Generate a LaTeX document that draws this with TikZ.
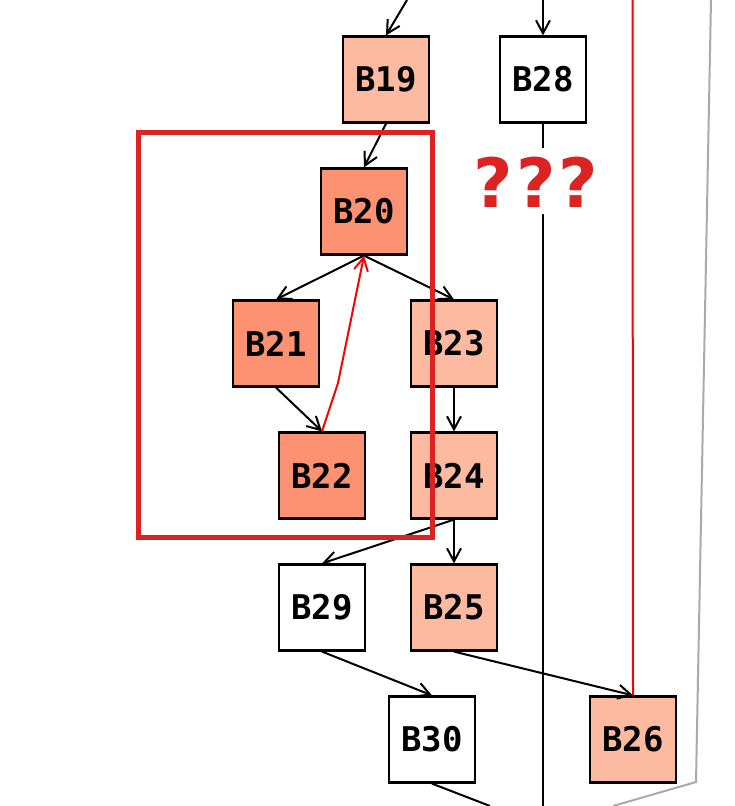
\documentclass[tikz,border=0pt]{standalone}
\usepackage{fontspec}
\setmonofont{DejaVu Sans Mono}
\newfontfamily\qfont{DejaVu Sans}
\usetikzlibrary{arrows.meta}
\definecolor{lightfill}{HTML}{FCBBA1}
\definecolor{midfill}{HTML}{FC9272}
\definecolor{boxred}{HTML}{DD2222}
\definecolor{edgegray}{HTML}{AAAAAA}
\tikzset{
  blk/.style={draw=black, line width=2.2pt, minimum size=86pt, inner sep=0pt,
    font=\fontsize{34}{38}\selectfont\ttfamily\bfseries},
  light/.style={blk, fill=lightfill},
  mid/.style={blk, fill=midfill},
  plain/.style={blk, fill=white},
  edge/.style={draw=black, line width=2pt, -{Straight Barb[length=13pt,width=14pt,line width=2pt]}},
  line/.style={draw=black, line width=2pt},
  rededge/.style={draw=red, line width=2pt, -{Straight Barb[length=13pt,width=14pt,line width=2pt]}},
  redline/.style={draw=red, line width=2pt},
  grayline/.style={draw=edgegray, line width=2pt},
}
\begin{document}
\begin{tikzpicture}[x=1pt,y=-1pt]
\useasboundingbox (0,0) rectangle (734,806);
% nodes
\node[light] (B19) at (386,79.5) {B19};
\node[plain] (B28) at (543,79.5) {B28};
\node[mid]   (B20) at (364,211.5) {B20};
\node[mid]   (B21) at (276,343.5) {B21};
\node[light] (B23) at (454,343.5) {B23};
\node[mid]   (B22) at (322,475.5) {B22};
\node[light] (B24) at (454,475.5) {B24};
\node[plain] (B29) at (322,607.5) {B29};
\node[light] (B25) at (454,607.5) {B25};
\node[plain] (B30) at (432,739.5) {B30};
\node[light] (B26) at (633,739.5) {B26};
% free ends
\coordinate (in19) at (407,0);
\coordinate (in28) at (543,0);
\coordinate (out28) at (543,806);
\coordinate (out30) at (490,806);
\coordinate (redtop) at (632.5,0);
\coordinate (graytop) at (711,0);
\coordinate (graybend) at (696,782);
\coordinate (grayend) at (613,806);
\coordinate (redbend) at (338,383);
% connectors
\draw[edge] (in19) -- (B19.north);
\draw[edge] (in28) -- (B28.north);
\draw[line] (B28.south) -- (out28);
\draw[redline] (redtop) -- (B26.north);
\draw[grayline] (graytop) -- (graybend) -- (grayend);
\draw[edge] (B19.south) -- (B20.north);
\draw[edge] (B20.south) -- (B21.north);
\draw[edge] (B20.south) -- (B23.north);
\draw[edge] (B21.south) -- (B22.north);
\draw[rededge] (B22.north) -- (redbend) -- (B20.south);
\draw[edge] (B23.south) -- (B24.north);
\draw[edge] (B24.south) -- (B29.north);
\draw[edge] (B24.south) -- (B25.north);
\draw[edge] (B29.south) -- (B30.north);
\draw[edge] (B25.south) -- (B26.north);
\draw[line] (B30.south) -- (out30);
% highlight box
\draw[boxred, line width=5pt] (138,132.5) rectangle (432.5,537.5);
% question marks
\fill[white, rounded corners=12pt] (468,148) rectangle (605,214);
\node[text=boxred, font=\fontsize{68}{70}\selectfont\qfont\bfseries, inner sep=0pt] (q) at (536,182) {?\kern3pt?\kern3pt?};
\end{tikzpicture}
\end{document}
